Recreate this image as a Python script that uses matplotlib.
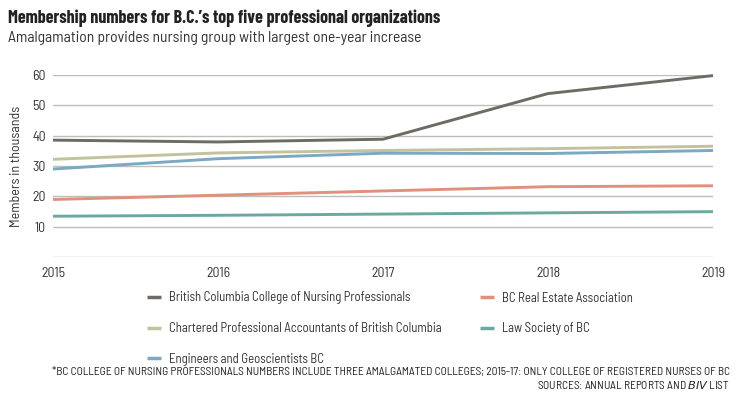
import matplotlib
matplotlib.use("Agg")
import matplotlib.pyplot as plt

plt.rcParams['font.family'] = ['Barlow Semi Condensed', 'DejaVu Sans']

years = [2015, 2016, 2017, 2018, 2019]
nursing = [38.5, 37.9, 38.8, 53.8, 59.7]
cpa = [32.2, 34.3, 35.1, 35.7, 36.5]
engineers = [29.0, 32.4, 34.2, 34.1, 35.1]
real_estate = [19.0, 20.4, 21.8, 23.2, 23.5]
law = [13.5, 13.8, 14.2, 14.6, 15.0]

labels = ["British Columbia College of Nursing Professionals",
          "Chartered Professional Accountants of British Columbia",
          "Engineers and Geoscientists BC",
          "BC Real Estate Association",
          "Law Society of BC"]
series = [nursing, cpa, engineers, real_estate, law]
colors = ["#6f6a63", "#c3c29f", "#7ba8c3", "#e0907b", "#6ba99f"]

yticks = [10, 20, 30, 40, 50, 60]

fig = plt.figure(figsize=(7.5, 3.99), dpi=100)
ax = fig.add_axes([53/750, 1-257.3/399, 660/750, (257.3-74.7)/399])

for v in [0] + yticks:
    ax.axhline(v, color="#bdbdbd", lw=1.0, zorder=1)

handles = []
for s, c, l in zip(series, colors, labels):
    h, = ax.plot(years, s, color=c, lw=2.1, label=l, zorder=3, clip_on=False,
                 solid_capstyle='butt')
    handles.append(h)

ax.set_xlim(2015, 2019)
ax.set_ylim(0, 60)
ax.set_yticks(yticks)
ax.set_xticks(years)
ax.tick_params(axis='both', length=0, labelsize=10, colors="#333333")
ax.tick_params(axis='y', pad=5)
ax.tick_params(axis='x', pad=7)
for sp in ax.spines.values():
    sp.set_visible(False)
ax.set_ylabel("Members in thousands", fontsize=10, color="#333333", labelpad=7)

fig.text(8/750, 1-18/399, "Membership numbers for B.C.\u2019s top five professional organizations",
         fontsize=13, fontweight='bold', color="#222222", va='center', ha='left',
         family=['Barlow Condensed', 'Barlow Semi Condensed', 'DejaVu Sans'])
fig.text(8/750, 1-38/399, "Amalgamation provides nursing group with largest one-year increase",
         fontsize=11.2, color="#333333", va='center', ha='left')

common = dict(loc='upper left', frameon=False, fontsize=9.2, handlelength=1.1,
              handletextpad=0.6, labelspacing=1.37, labelcolor="#333333",
              borderaxespad=0, borderpad=0)
leg1 = fig.legend(handles=handles[:3], labels=labels[:3],
                  bbox_to_anchor=(147/750, 1-291.5/399), **common)
leg2 = fig.legend(handles=handles[3:], labels=labels[3:],
                  bbox_to_anchor=(480/750, 1-291.5/399), **common)
for lg in (leg1, leg2):
    for lh in lg.get_lines():
        lh.set_linewidth(2.5)

fig.text(730/750, 1-372/399,
         "*BC COLLEGE OF NURSING PROFESSIONALS NUMBERS INCLUDE THREE AMALGAMATED COLLEGES; 2015-17: ONLY COLLEGE OF REGISTERED NURSES OF BC",
         fontsize=8.2, color="#222222", ha='right', va='center')
fig.text(730/750, 1-385/399, "SOURCES: ANNUAL REPORTS AND $\\it{BIV}$ LIST",
         fontsize=8.2, color="#222222", ha='right', va='center')

fig.savefig("out.png", dpi=100)
